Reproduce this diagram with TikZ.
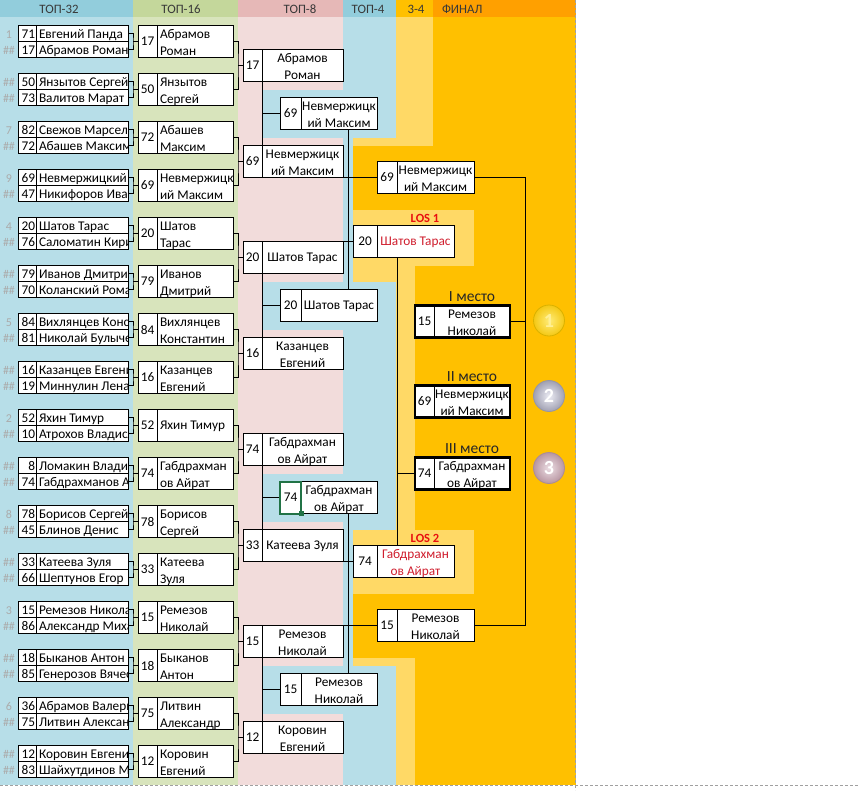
\documentclass[tikz,border=0pt]{standalone}
\usepackage{fontspec}
\setmainfont{Carlito}
\usetikzlibrary{calc}
\definecolor{hBlue}{HTML}{92CDDC}
\definecolor{bBlue}{HTML}{B7DEE8}
\definecolor{hGreen}{HTML}{C4D79B}
\definecolor{bGreen}{HTML}{D8E4BC}
\definecolor{hPink}{HTML}{E6B8B7}
\definecolor{bPink}{HTML}{F2DCDB}
\definecolor{lOr}{HTML}{FFD966}
\definecolor{dOr}{HTML}{FFC000}
\definecolor{hOr}{HTML}{FFA000}
\definecolor{losred}{HTML}{D01E2E}
\definecolor{lostitle}{HTML}{E81010}
\definecolor{seedgray}{HTML}{ABABAB}
\definecolor{hdrtext}{HTML}{383838}
\definecolor{selgreen}{HTML}{217346}
\definecolor{pagegray}{HTML}{A0A0A0}
\definecolor{gEdge}{HTML}{D9B100}
\definecolor{gIn}{HTML}{FFEC78}
\definecolor{gOut}{HTML}{F4C814}
\definecolor{gTxt}{HTML}{FFF096}
\definecolor{sEdge}{HTML}{9696A5}
\definecolor{sIn}{HTML}{ECECF4}
\definecolor{sOut}{HTML}{A0A0B2}
\definecolor{bEdge}{HTML}{AA8C96}
\definecolor{bIn}{HTML}{ECDEE4}
\definecolor{bOut}{HTML}{B896A2}
\newcommand\hh{\#\#}
\tikzset{
 cellbox/.style={draw=black, fill=white, line width=0.8pt, inner sep=0pt, outer sep=0pt},
 ln/.style={draw=black, line width=0.8pt},
 seedtxt/.style={text=seedgray, font=\fontsize{12}{14}\selectfont},
 hdr/.style={text=hdrtext, anchor=base, font=\fontsize{12.8}{14}\selectfont},
 plabel/.style={anchor=base, font=\fontsize{15.5}{17}\selectfont, text=black!85},
 loslabel/.style={anchor=base, text=lostitle, font=\bfseries\fontsize{12.5}{14}\selectfont},
 thickbox/.style={draw=black, line width=2.2pt},
 medal/.style={circle, minimum size=31pt, line width=0.8pt, font=\bfseries\fontsize{20}{20}\selectfont},
}
% top-32 pair
\newcommand\TopPair[8]{%
 \node[cellbox, minimum width=18pt, minimum height=16pt, anchor=north west] (npa#1) at (18,#2) {};
 \node[cellbox, minimum width=92pt, minimum height=16pt, anchor=north west] (pa#1) at (36,#2) {};
 \node[cellbox, minimum width=18pt, minimum height=16pt, anchor=north west] (npb#1) at (18,#2+16) {};
 \node[cellbox, minimum width=92pt, minimum height=16pt, anchor=north west] (pb#1) at (36,#2+16) {};
 \node[seedtxt, anchor=base] (sda#1) at (9,#2+12.8) {#3};
 \node[seedtxt, anchor=base] (sdb#1) at (9,#2+28.8) {#4};
 \node[anchor=base east] (tna#1) at (35,#2+12.8) {#5};
 \node[anchor=base east] (tnb#1) at (35,#2+28.8) {#7};
 \begin{scope}
  \clip (36.5,#2) rectangle (127.6,#2+32);
  \node[anchor=base west] (tpa#1) at (39,#2+12.8) {#6};
  \node[anchor=base west] (tpb#1) at (39,#2+28.8) {#8};
 \end{scope}
}
% top-16 boxes
\newcommand\SixTwo[5]{%
 \node[cellbox, minimum width=19pt, minimum height=32pt, anchor=north west] (ns#1) at (138,#2) {};
 \node[cellbox, minimum width=76pt, minimum height=32pt, anchor=north west] (s#1) at (157,#2) {};
 \node (tns#1) at (147.5,#2+16) {#3};
 \node[anchor=base west] (tsa#1) at (160,#2+12.8) {#4};
 \node[anchor=base west] (tsb#1) at (160,#2+30.4) {#5};
}
\newcommand\SixOne[4]{%
 \node[cellbox, minimum width=19pt, minimum height=32pt, anchor=north west] (ns#1) at (138,#2) {};
 \node[cellbox, minimum width=76pt, minimum height=32pt, anchor=north west] (s#1) at (157,#2) {};
 \node (tns#1) at (147.5,#2+16) {#3};
 \node[anchor=base west] (tsa#1) at (160,#2+20.3) {#4};
}
% generic centred boxes
\newcommand\BoxTwo[9]{%
 \node[cellbox, minimum width=#3pt, minimum height=32pt, anchor=north west] (n#1) at (#2,#5) {};
 \node[cellbox, minimum width=#4pt, minimum height=32pt, anchor=north west] (#1) at (#2+#3,#5) {};
 \node[#9] (tn#1) at (#2+#3/2,#5+16) {#6};
 \node[anchor=base,#9] (ta#1) at (#2+#3+#4/2,#5+12.8) {#7};
 \node[anchor=base,#9] (tb#1) at (#2+#3+#4/2,#5+30.2) {#8};
}
\newcommand\BoxOne[8]{%
 \node[cellbox, minimum width=#3pt, minimum height=32pt, anchor=north west] (n#1) at (#2,#5) {};
 \node[cellbox, minimum width=#4pt, minimum height=32pt, anchor=north west] (#1) at (#2+#3,#5) {};
 \node[#8] (tn#1) at (#2+#3/2,#5+16) {#6};
 \node[anchor=base,#8] (ta#1) at (#2+#3+#4/2,#5+20.3) {#7};
}
\begin{document}
\begin{tikzpicture}[x=1pt,y=-1pt, every node/.style={inner sep=0pt, outer sep=0pt}, font=\fontsize{13.3}{15}\selectfont]
\useasboundingbox (0,0) rectangle (858,790);
\fill[white] (0,0) rectangle (858,790);
% header
\fill[hBlue] (0,0) rectangle (133,17);
\fill[hGreen] (133,0) rectangle (238,17);
\fill[hPink] (238,0) rectangle (343,17);
\fill[hBlue] (343,0) rectangle (396,17);
\fill[dOr] (396,0) rectangle (433,17);
\fill[hOr] (433,0) rectangle (575.5,17);
% body columns
\fill[bBlue] (0,17) rectangle (133,785);
\fill[bGreen] (133,17) rectangle (238,785);
\fill[bPink] (238,17) rectangle (343,785);
\fill[bBlue] (343,17) rectangle (396,785);
\fill[lOr] (396,17) rectangle (433,145.5);
\fill[dOr] (433,17) rectangle (575.5,145.5);
\fill[lOr] (353,137.5) rectangle (433,145.5);
\fill[dOr] (353,145.5) rectangle (575.5,209.5);
\fill[lOr] (353,209.5) rectangle (474,265.5);
\fill[dOr] (474,209.5) rectangle (575.5,265.5);
\fill[lOr] (353,265.5) rectangle (415,281.5);
\fill[lOr] (396,281.5) rectangle (415,529.5);
\fill[dOr] (415,265.5) rectangle (575.5,529.5);
\fill[lOr] (353,529.5) rectangle (474,593.5);
\fill[dOr] (474,529.5) rectangle (575.5,593.5);
\fill[dOr] (353,593.5) rectangle (575.5,657.5);
\fill[lOr] (353,657.5) rectangle (415,665.5);
\fill[lOr] (396,665.5) rectangle (415,785);
\fill[dOr] (415,657.5) rectangle (575.5,785);
\foreach \c in {113.5,305.5,497.5,689.5} \fill[bBlue] (262,\c-24) rectangle (396,\c+24);
% page break lines
\draw[pagegray, line width=0.8pt, dash pattern=on 3pt off 2pt] (575.5,0) -- (575.5,790);
\draw[pagegray, line width=0.8pt, dash pattern=on 3pt off 2pt] (0,785.5) -- (858,785.5);
% header texts
\node[hdr] (h1) at (59,13.3) {ТОП-32};
\node[hdr] (h2) at (181,13.3) {ТОП-16};
\node[hdr] (h3) at (300,13.3) {ТОП-8};
\node[hdr] (h4) at (368,13.3) {ТОП-4};
\node[hdr] (h5) at (416,13.3) {3-4};
\node[hdr, anchor=base west] (h6) at (442,13.3) {ФИНАЛ};
% TOP-32
\TopPair{1}{25.5}{1}{\hh}{71}{Евгений Панда}{17}{Абрамов Роман}
\TopPair{2}{73.5}{\hh}{\hh}{50}{Янзытов Сергей}{73}{Валитов Марат}
\TopPair{3}{121.5}{7}{\hh}{82}{Свежов Марсел}{72}{Абашев Максим}
\TopPair{4}{169.5}{9}{\hh}{69}{Невмержицкий}{47}{Никифоров Иван}
\TopPair{5}{217.5}{4}{\hh}{20}{Шатов Тарас}{76}{Саломатин Кири}
\TopPair{6}{265.5}{\hh}{\hh}{79}{Иванов Дмитрий}{70}{Коланский Роман}
\TopPair{7}{313.5}{5}{\hh}{84}{Вихлянцев Конст}{81}{Николай Булыче}
\TopPair{8}{361.5}{\hh}{\hh}{16}{Казанцев Евгений}{19}{Миннулин Ленар}
\TopPair{9}{409.5}{2}{\hh}{52}{Яхин Тимур}{10}{Атрохов Владисл}
\TopPair{10}{457.5}{\hh}{\hh}{8}{Ломакин Владим}{74}{Габдрахманов Ай}
\TopPair{11}{505.5}{8}{\hh}{78}{Борисов Сергей}{45}{Блинов Денис}
\TopPair{12}{553.5}{\hh}{\hh}{33}{Катеева Зуля}{66}{Шептунов Егор}
\TopPair{13}{601.5}{3}{\hh}{15}{Ремезов Николай}{86}{Александр Михай}
\TopPair{14}{649.5}{\hh}{\hh}{18}{Быканов Антон}{85}{Генерозов Вячесл}
\TopPair{15}{697.5}{6}{\hh}{36}{Абрамов Валери}{75}{Литвин Александ}
\TopPair{16}{745.5}{\hh}{\hh}{12}{Коровин Евгений}{83}{Шайхутдинов М}
% TOP-16
\SixTwo{1}{25.5}{17}{Абрамов}{Роман}
\SixTwo{2}{73.5}{50}{Янзытов}{Сергей}
\SixTwo{3}{121.5}{72}{Абашев}{Максим}
\SixTwo{4}{169.5}{69}{Невмержицк}{ий Максим}
\SixTwo{5}{217.5}{20}{Шатов}{Тарас}
\SixTwo{6}{265.5}{79}{Иванов}{Дмитрий}
\SixTwo{7}{313.5}{84}{Вихлянцев}{Константин}
\SixTwo{8}{361.5}{16}{Казанцев}{Евгений}
\SixOne{9}{409.5}{52}{Яхин Тимур}
\SixTwo{10}{457.5}{74}{Габдрахман}{ов Айрат}
\SixTwo{11}{505.5}{78}{Борисов}{Сергей}
\SixTwo{12}{553.5}{33}{Катеева}{Зуля}
\SixTwo{13}{601.5}{15}{Ремезов}{Николай}
\SixTwo{14}{649.5}{18}{Быканов}{Антон}
\SixTwo{15}{697.5}{75}{Литвин}{Александр}
\SixTwo{16}{745.5}{12}{Коровин}{Евгений}
% TOP-8
\BoxTwo{e1}{243}{19}{81}{49.5}{17}{Абрамов}{Роман}{}
\BoxTwo{e2}{243}{19}{81}{145.5}{69}{Невмержицк}{ий Максим}{}
\BoxOne{e3}{243}{19}{81}{241.5}{20}{Шатов Тарас}{}
\BoxTwo{e4}{243}{19}{81}{337.5}{16}{Казанцев}{Евгений}{}
\BoxTwo{e5}{243}{19}{81}{433.5}{74}{Габдрахман}{ов Айрат}{}
\BoxOne{e6}{243}{19}{81}{529.5}{33}{Катеева Зуля}{}
\BoxTwo{e7}{243}{19}{81}{625.5}{15}{Ремезов}{Николай}{}
\BoxTwo{e8}{243}{19}{81}{721.5}{12}{Коровин}{Евгений}{}
% TOP-4
\BoxTwo{f1}{280}{21}{76}{97.5}{69}{Невмержицк}{ий Максим}{}
\BoxOne{f2}{280}{21}{76}{289.5}{20}{Шатов Тарас}{}
\BoxTwo{f3}{280}{21}{76}{481.5}{74}{Габдрахман}{ов Айрат}{}
\BoxTwo{f4}{280}{21}{76}{673.5}{15}{Ремезов}{Николай}{}
% finalists
\BoxTwo{fin1}{377}{20}{77}{161.5}{69}{Невмержицк}{ий Максим}{}
\BoxTwo{fin2}{377}{20}{77}{609.5}{15}{Ремезов}{Николай}{}
% LOS
\BoxOne{los1}{353}{24}{77}{225.5}{20}{\textcolor{losred}{Шатов Тарас}}{}
\BoxTwo{los2}{353}{24}{77}{545.5}{74}{\textcolor{losred}{Габдрахман}}{\textcolor{losred}{ов Айрат}}{}
\node[loslabel] (lt1) at (425,222.3) {LOS 1};
\node[loslabel] (lt2) at (425,542.3) {LOS 2};
% places
\BoxTwo{pl1}{415}{19}{76}{305.5}{15}{Ремезов}{Николай}{}
\BoxTwo{pl2}{415}{19}{76}{385.5}{69}{Невмержицк}{ий Максим}{}
\BoxTwo{pl3}{415}{19}{76}{457.5}{74}{Габдрахман}{ов Айрат}{}
\draw[thickbox] (npl1.north west) rectangle (pl1.south east);
\draw[thickbox] (npl2.north west) rectangle (pl2.south east);
\draw[thickbox] (npl3.north west) rectangle (pl3.south east);
\node[plabel] (lb1) at (472,301.5) {I место};
\node[plabel] (lb2) at (472,381.5) {II место};
\node[plabel] (lb3) at (472,453.8) {III место};
% medals
\node[medal, draw=gEdge, inner color=gIn, outer color=gOut, text=gTxt] (md1) at (549,320.5) {1};
\node[medal, draw=sEdge, inner color=sIn, outer color=sOut, text=white] (md2) at (549,396) {2};
\node[medal, draw=bEdge, inner color=bIn, outer color=bOut, text=white] (md3) at (549,468) {3};
% connectors TOP-32 -> TOP-16
\foreach \i in {1,...,16} {
  \coordinate (ja\i) at ($(pa\i.south east)+(5,0)$);
  \draw[ln] (pa\i.east) -| (ja\i) |- (pb\i.east);
  \draw[ln] (ja\i) -- (ns\i.west);
}
% TOP-16 -> TOP-8
\foreach \j [evaluate=\j as \a using int(2*\j-1), evaluate=\j as \b using int(2*\j)] in {1,...,8} {
  \coordinate (jb\j) at ($(ne\j.west)+(-5,0)$);
  \draw[ln] (s\a.east) -| (jb\j) |- (s\b.east);
  \draw[ln] (jb\j) -- (ne\j.west);
}
% TOP-8 -> TOP-4
\foreach \m [evaluate=\m as \a using int(2*\m-1), evaluate=\m as \b using int(2*\m)] in {1,...,4} {
  \draw[ln] (ne\a.south east) -- (ne\b.north east);
  \draw[ln] (nf\m.west) -- (nf\m.west -| ne\a.east);
}
% TOP-4 -> final / LOS
\coordinate (xq) at (348,0);
\draw[ln] (f1.south -| xq) -- (f2.north -| xq);
\draw[ln] (f3.south -| xq) -- (f4.north -| xq);
\draw[ln] (nfin1.west) -- (nfin1.west -| e2.east);
\draw[ln] (nlos1.west) -- (nlos1.west -| e3.east);
\draw[ln] (nlos2.west) -- (nlos2.west -| e6.east);
\draw[ln] (nfin2.west) -- (nfin2.west -| e7.east);
% final
\coordinate (xr) at (525,0);
\draw[ln] (fin1.east) -- (fin1.east -| xr) -- (fin2.east -| xr) -- (fin2.east);
\draw[ln] (pl1.east) -- (pl1.east -| xr);
% 3rd place
\coordinate (xs) at (397,0);
\draw[ln] (los1.south -| xs) -- (los2.north -| xs);
\draw[ln] (npl3.west) -- (npl3.west -| xs);
% selected cell
\draw[selgreen, line width=2pt] (nf3.north west) rectangle (nf3.south east);
\fill[selgreen] ($(nf3.south east)+(-2.5,-2.5)$) rectangle ++(5,5);
\end{tikzpicture}
\end{document}
